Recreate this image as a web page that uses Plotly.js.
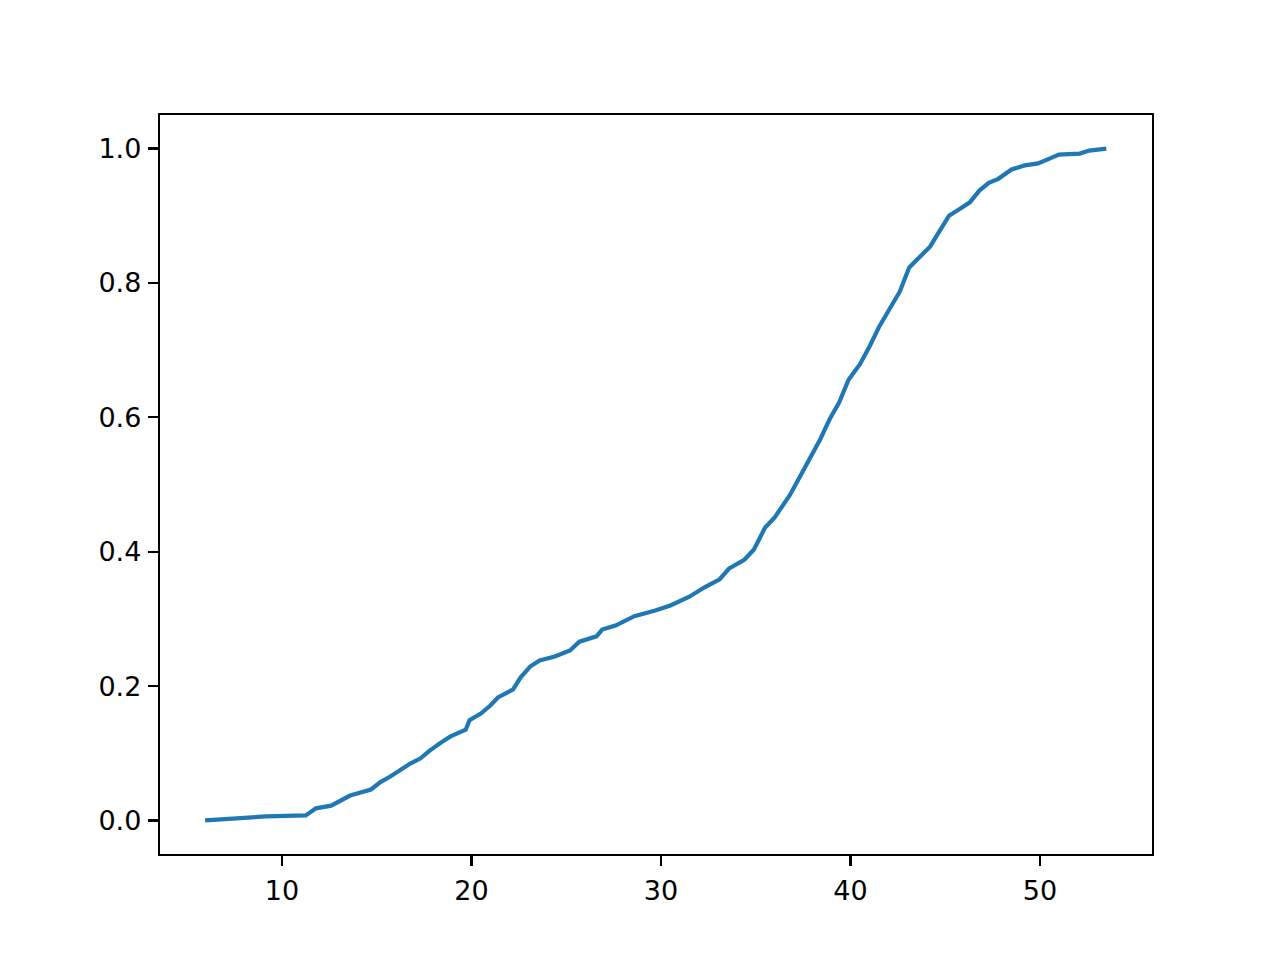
<!DOCTYPE html>
<html>
<head>
<meta charset="utf-8">
<script src="https://cdn.plot.ly/plotly-3.0.1.min.js"></script>
<style>
  html, body { margin: 0; padding: 0; background: #ffffff; }
  #grafico { width: 1280px; height: 960px; }
</style>
</head>
<body>
<div id="grafico"></div>
<script>
const valoresX = [
  5.95, 7.3, 7.84, 9.16, 11.26, 11.8, 12.6, 13.1, 13.6, 14.7,
  15.2, 15.7, 16.3, 16.8, 17.3, 17.8, 18.4, 18.9, 19.7, 19.9,
  20.5, 21.0, 21.4, 22.2, 22.6, 23.1, 23.6, 24.4, 25.2, 25.7,
  26.6, 26.9, 27.6, 28.6, 29.7, 30.5, 31.5, 32.3, 33.1, 33.6,
  34.4, 34.9, 35.5, 36.0, 36.8, 37.3, 37.8, 38.4, 38.9, 39.4,
  39.9, 40.5, 41.0, 41.5, 42.1, 42.6, 43.1, 43.6, 44.2, 44.7,
  45.2, 45.7, 46.3, 46.8, 47.3, 47.8, 48.5, 49.2, 49.9, 50.5,
  51.0, 52.1, 52.6, 53.5
];
const valoresY = [
  0.0, 0.003, 0.0045, 0.006, 0.0074, 0.018, 0.022, 0.03, 0.037, 0.046,
  0.057, 0.065, 0.076, 0.085, 0.092, 0.104, 0.116, 0.125, 0.135, 0.149,
  0.159, 0.171, 0.183, 0.195, 0.213, 0.229, 0.238, 0.244, 0.253, 0.266,
  0.274, 0.284, 0.29, 0.304, 0.3125, 0.32, 0.333, 0.347, 0.359, 0.375,
  0.388, 0.403, 0.436, 0.451, 0.484, 0.51, 0.537, 0.567, 0.597, 0.622,
  0.656, 0.679, 0.705, 0.734, 0.763, 0.787, 0.823, 0.838, 0.854, 0.877,
  0.9, 0.909, 0.92, 0.9375, 0.949, 0.955, 0.969, 0.975, 0.978, 0.985,
  0.991, 0.9926, 0.997, 1.0
];
const ticksX = [10, 20, 30, 40, 50];
const ticksY = [0.0, 0.2, 0.4, 0.6, 0.8, 1.0];

const ejeBase = {
  showgrid: false,
  zeroline: false,
  showline: true,
  mirror: true,
  linecolor: '#000000',
  linewidth: 2.2,
  ticks: 'outside',
  ticklen: 10,
  tickwidth: 2.2,
  tickcolor: '#000000',
  tickfont: { family: 'DejaVu Sans', size: 27, color: '#000000' },
  ticklabelstandoff: 1
};

const traza = {
  x: valoresX,
  y: valoresY,
  type: 'scatter',
  mode: 'lines',
  line: { color: '#1f77b4', width: 4.2 },
  hoverinfo: 'skip'
};

const layout = {
  width: 1280,
  height: 960,
  paper_bgcolor: '#ffffff',
  plot_bgcolor: '#ffffff',
  margin: { l: 160, r: 128, t: 115, b: 106 },
  showlegend: false,
  xaxis: {
    ...ejeBase,
    range: [3.57, 55.91],
    tickmode: 'array',
    tickvals: ticksX,
    ticktext: ticksX.map(v => String(v))
  },
  yaxis: {
    ...ejeBase,
    range: [-0.05, 1.05],
    tickmode: 'array',
    tickvals: ticksY,
    ticktext: ticksY.map(v => v.toFixed(1))
  }
};

Plotly.newPlot('grafico', [traza], layout, { displayModeBar: false, staticPlot: true });
</script>
</body>
</html>
